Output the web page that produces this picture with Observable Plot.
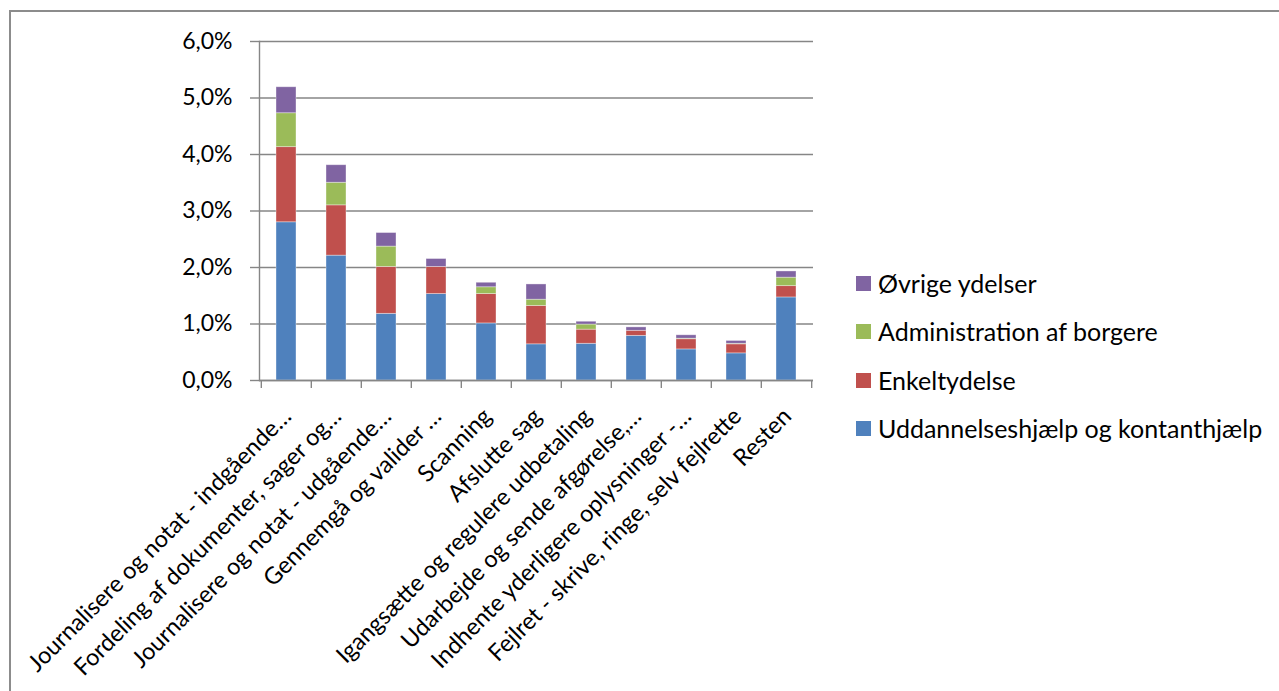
<!DOCTYPE html>
<html>
<head>
<meta charset="utf-8">
<script src="https://cdn.jsdelivr.net/npm/d3@7"></script>
<script src="https://cdn.jsdelivr.net/npm/@observablehq/plot@0.6"></script>
<style>
  body { margin: 0; background: #fff; }
  #wrap { position: relative; width: 1279px; height: 691px; overflow: hidden; font-family: Lato, "Noto Sans", sans-serif; }
  #border { position: absolute; left: 9px; top: 10px; width: 1320px; height: 740px; border: 2px solid #8c8c8c; box-sizing: border-box; }
  #chart { position: absolute; left: 0; top: 0; }
  #legend { position: absolute; left: 856px; top: 0; }
  .item { position: absolute; left: 0; white-space: nowrap; display: flex; align-items: center; height: 30px; font-size: 25px; color: #000; }
  .swatch { width: 15px; height: 15px; margin-right: 7px; flex: none; }
</style>
</head>
<body>
<div id="wrap">
  <div id="border"></div>
  <div id="chart"></div>
  <div id="legend"></div>
</div>
<script>
// Activities along the x axis
const categories = [
  "Journalisere og notat - indgående…",
  "Fordeling af dokumenter, sager og…",
  "Journalisere og notat - udgående…",
  "Gennemgå og valider …",
  "Scanning",
  "Afslutte sag",
  "Igangsætte og regulere udbetaling",
  "Udarbejde og sende afgørelse,…",
  "Indhente yderligere oplysninger -…",
  "Fejlret - skrive, ringe, selv fejlrette",
  "Resten"
];

// Share of time per benefit area (percent), bottom to top of each stack
const seriesNames = [
  "Uddannelseshjælp og kontanthjælp",
  "Enkeltydelse",
  "Administration af borgere",
  "Øvrige ydelser"
];
const uddannelseshjaelp = [2.80, 2.21, 1.18, 1.53, 1.01, 0.64, 0.65, 0.79, 0.55, 0.48, 1.47];
const enkeltydelse      = [1.33, 0.89, 0.83, 0.48, 0.52, 0.68, 0.25, 0.09, 0.18, 0.16, 0.20];
const administration    = [0.60, 0.40, 0.36, 0.00, 0.12, 0.11, 0.09, 0.00, 0.01, 0.01, 0.15];
const oevrige           = [0.46, 0.31, 0.24, 0.14, 0.08, 0.27, 0.05, 0.06, 0.06, 0.05, 0.11];
const seriesColors = ["#4f81bd", "#c0504d", "#9bbb59", "#8064a2"];

const yTicks = [0, 1, 2, 3, 4, 5, 6];

const seriesValues = [uddannelseshjaelp, enkeltydelse, administration, oevrige];
const rows = seriesNames.flatMap((name, s) =>
  categories.map((category, i) => ({ category, serie: name, value: seriesValues[s][i] }))
);

const W = 1279, H = 691;
const mL = 259, mR = 466, mT = 41, mB = 311;
const step = (W - mL - mR) / categories.length;
const axisGray = "#868686";
const fmt = d => d.toFixed(1).replace(".", ",") + "%";

const chart = Plot.plot({
  width: W,
  height: H,
  marginLeft: mL,
  marginRight: mR,
  marginTop: mT,
  marginBottom: mB,
  style: { fontFamily: "Lato, 'Noto Sans', sans-serif", fontSize: "23px", color: "#000", background: "transparent", overflow: "visible" },
  x: { domain: categories, paddingInner: 0.6, paddingOuter: 0.3, axis: null },
  y: { domain: [0, 6], axis: null },
  color: { domain: seriesNames, range: seriesColors },
  marks: [
    Plot.gridY(yTicks, { stroke: axisGray, strokeOpacity: 1, strokeWidth: 1.4 }),
    Plot.axisY({ ticks: yTicks, tickSize: 9, tickPadding: 18, tickFormat: fmt, stroke: axisGray, strokeWidth: 1.4, label: null, fill: "#000" }),
    Plot.barY(rows, { x: "category", y: "value", fill: "serie", stroke: "#ffffff", strokeOpacity: 0.45, strokeWidth: 0.8 }),
    Plot.ruleY([0], { stroke: axisGray, strokeWidth: 1.4 }),
    Plot.frame({ anchor: "left", stroke: axisGray, strokeWidth: 1.4 }),
    // category boundary ticks below the baseline
    Plot.axisX({ tickSize: 8, tickFormat: () => "", dx: -step / 2, stroke: axisGray, strokeWidth: 1.4, label: null }),
    Plot.axisX({ ticks: [categories[categories.length - 1]], tickSize: 8, tickFormat: () => "", dx: step / 2, stroke: axisGray, strokeWidth: 1.4, label: null }),
    // rotated category labels
    Plot.axisX({ tickSize: 0, tickPadding: 32, tickRotate: -45, label: null, fill: "#000", dx: 1, fontSize: 23.5 })
  ]
});
document.getElementById("chart").appendChild(chart);

// Legend, top entry is the top of the stack
const legend = document.getElementById("legend");
const legendCenters = [283, 331, 380, 428];
seriesNames.slice().reverse().forEach((name, k) => {
  const color = seriesColors[seriesNames.length - 1 - k];
  const item = document.createElement("div");
  item.className = "item";
  item.style.top = (legendCenters[k] - 15) + "px";
  item.innerHTML = `<span class="swatch" style="background:${color}"></span><span>${name}</span>`;
  legend.appendChild(item);
});
</script>
</body>
</html>
